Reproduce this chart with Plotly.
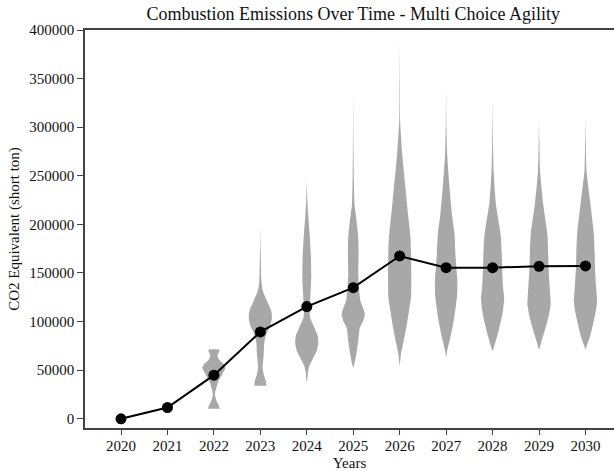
import plotly.graph_objects as go

years = [2020, 2021, 2022, 2023, 2024, 2025, 2026, 2027, 2028, 2029, 2030]
means = [0, 11600, 44900, 89400, 115400, 134900, 167500, 155500, 155500, 156900, 157200]

# violin outlines: values (short ton) and relative width (1 = widest)
v2022_y = [10300, 13400, 18500, 25400, 32200, 39000, 45900, 52700, 56200, 60000, 64700, 68000, 70900]
v2022_w = [0.52, 0.43, 0.22, 0.09, 0.22, 0.40, 0.72, 1.00, 0.86, 0.50, 0.31, 0.40, 0.49]

v2023_y = [33900, 39000, 45900, 52700, 59000, 66500, 80100, 88700, 95600, 104100, 111000, 121200, 131500, 141800, 160000, 172600, 198300]
v2023_w = [0.52, 0.47, 0.29, 0.19, 0.24, 0.29, 0.36, 0.58, 0.86, 1.00, 0.94, 0.58, 0.22, 0.09, 0.05, 0.03, 0.0]

v2024_y = [38300, 39000, 47600, 54500, 61300, 69900, 78400, 85300, 93800, 104100, 116100, 131500, 145200, 165700, 189800, 210000, 224000, 246300]
v2024_w = [0.0, 0.03, 0.09, 0.22, 0.50, 0.86, 1.00, 0.94, 0.65, 0.28, 0.26, 0.33, 0.38, 0.36, 0.25, 0.12, 0.05, 0.0]

v2025_y = [52700, 56200, 66500, 80100, 93800, 100700, 107600, 114000, 121200, 134900, 148700, 169200, 186300, 203400, 220600, 250000, 272000, 333600]
v2025_w = [0.0, 0.09, 0.26, 0.43, 0.57, 0.86, 1.00, 0.85, 0.62, 0.49, 0.43, 0.46, 0.43, 0.29, 0.11, 0.05, 0.03, 0.0]

v2026_y = [54500, 60000, 66500, 76800, 93800, 111000, 124600, 141800, 169200, 186300, 210300, 237700, 272000, 306200, 330000, 391800]
v2026_w = [0.0, 0.05, 0.11, 0.29, 0.57, 0.80, 0.97, 1.00, 0.98, 0.93, 0.72, 0.50, 0.22, 0.04, 0.02, 0.0]

v2027_y = [63000, 69900, 83500, 100700, 117800, 128000, 141800, 155500, 169200, 189800, 210300, 237700, 272000, 300000, 338700]
v2027_w = [0.0, 0.09, 0.36, 0.65, 0.86, 0.95, 0.97, 0.88, 0.80, 0.72, 0.50, 0.29, 0.09, 0.03, 0.0]

v2028_y = [69900, 73300, 83500, 97000, 110900, 124600, 134900, 155500, 169200, 189800, 220600, 254800, 290000, 330100]
v2028_w = [0.0, 0.11, 0.36, 0.65, 0.89, 1.00, 0.90, 0.82, 0.79, 0.69, 0.29, 0.09, 0.03, 0.0]

v2029_y = [71600, 80100, 93800, 107600, 117800, 128000, 155500, 169200, 189800, 220600, 254800, 285000, 308000]
v2029_w = [0.0, 0.22, 0.57, 0.86, 1.00, 0.96, 0.82, 0.79, 0.72, 0.36, 0.09, 0.03, 0.0]

v2030_y = [71600, 75000, 83500, 97000, 110900, 121200, 134900, 155500, 169200, 189800, 220600, 254800, 285000, 309600]
v2030_w = [0.0, 0.11, 0.36, 0.65, 0.89, 1.00, 0.92, 0.82, 0.79, 0.72, 0.43, 0.09, 0.03, 0.0]

violins = {
    2022: (v2022_y, v2022_w), 2023: (v2023_y, v2023_w), 2024: (v2024_y, v2024_w),
    2025: (v2025_y, v2025_w), 2026: (v2026_y, v2026_w), 2027: (v2027_y, v2027_w),
    2028: (v2028_y, v2028_w), 2029: (v2029_y, v2029_w), 2030: (v2030_y, v2030_w),
}

FONT = "Liberation Serif"
GRAY = "rgb(168,168,168)"
HALF = 0.25  # half of the full violin width (0.5 year)

fig = go.Figure()
for yr, (vy, vw) in violins.items():
    xs = [yr + HALF * w for w in vw] + [yr - HALF * w for w in reversed(vw)]
    ys = list(vy) + list(reversed(vy))
    fig.add_trace(go.Scatter(
        x=xs, y=ys, fill="toself", fillcolor=GRAY, mode="lines",
        line=dict(color=GRAY, width=0, shape="spline", smoothing=0.6),
        showlegend=False, hoverinfo="skip"))

fig.add_trace(go.Scatter(
    x=years, y=means, mode="lines+markers",
    line=dict(color="black", width=2),
    marker=dict(color="black", size=11),
    showlegend=False))

fig.update_layout(
    width=614, height=471,
    margin=dict(l=85, r=0, t=30, b=43),
    plot_bgcolor="white", paper_bgcolor="white",
    font=dict(family=FONT, size=15, color="#111"),
    title=dict(text="Combustion Emissions Over Time - Multi Choice Agility",
               font=dict(family=FONT, size=18, color="#111"),
               x=0.507, xref="paper", xanchor="center",
               y=1 - 14 / 471, yref="container", yanchor="middle"),
)
fig.update_xaxes(
    range=[2019.225, 2030.614], tickvals=years, ticktext=[str(y) for y in years],
    ticks="outside", ticklen=5, tickwidth=1.2, tickcolor="#444",
    showline=True, linecolor="#444", linewidth=1.5, mirror=True,
    showgrid=False, zeroline=False, ticklabelstandoff=-2,
    title=dict(text="Years", standoff=8, font=dict(family=FONT, size=15)),
)
fig.update_yaxes(
    range=[-9500, 400000], tickvals=list(range(0, 400001, 50000)), tickformat="d",
    ticks="outside", ticklen=6, tickwidth=1.2, tickcolor="#444",
    showline=True, linecolor="#444", linewidth=1.5, mirror=False,
    showgrid=False, zeroline=False,
    title=dict(text="CO2 Equivalent (short ton)", standoff=6, font=dict(family=FONT, size=15)),
)

fig.write_html("out.html")
